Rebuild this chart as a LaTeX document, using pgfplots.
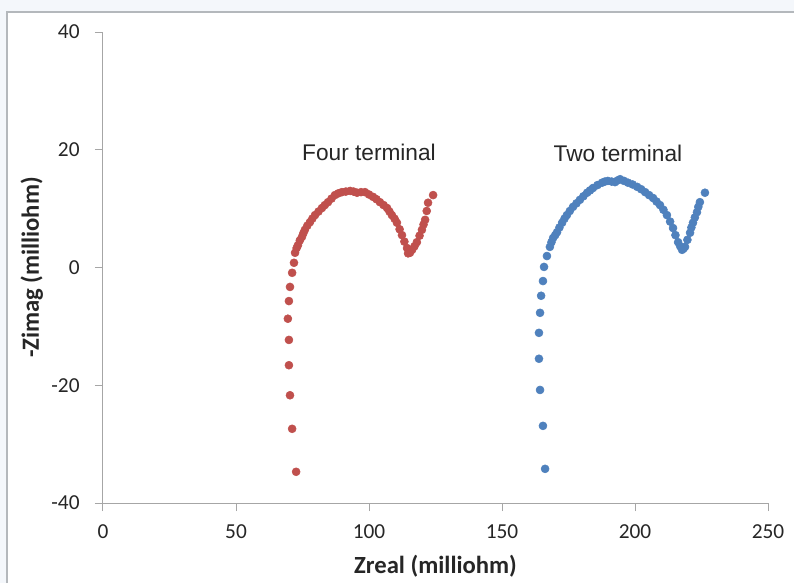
\documentclass[border=0pt]{standalone}
\usepackage{pgfplots}
\pgfplotsset{compat=1.18}
\usepackage{fontspec}
\setmainfont{Carlito}
\newfontfamily\arialfont{Liberation Sans}
\definecolor{redser}{HTML}{C0504D}
\definecolor{blueser}{HTML}{4F81BD}
\definecolor{axisgray}{HTML}{A6A6A6}
\definecolor{pagebg}{HTML}{F4F7FB}
\definecolor{framegray}{HTML}{B4B8BC}
\definecolor{txt}{HTML}{262626}

\begin{document}
\begin{tikzpicture}[x=1pt,y=1pt]
% page background and chart frame
\path[use as bounding box, fill=pagebg] (0,0) rectangle (595.5,437.25);
\fill[white] (5.25,0) rectangle (595.5,428.25);
\draw[framegray, line width=1.5pt] (5.25,0) -- (5.25,428.25) -- (595.5,428.25);

\begin{axis}[
    at={(77.25pt,60pt)}, anchor=south west,
    scale only axis, width=498.75pt, height=353.25pt,
    xmin=0, xmax=250, ymin=-40, ymax=40,
    xtick={0,50,...,250}, ytick={-40,-20,...,40},
    axis x line=bottom, axis y line=left,
    axis line style={axisgray, line width=0.75pt, -},
    tick align=outside, major tick length=6pt,
    tick style={axisgray, line width=0.75pt},
    ticklabel style={font=\fontsize{16}{19}\selectfont, text=txt},
    xticklabel style={yshift=-7pt},
    yticklabel style={xshift=-8pt},
    /pgf/number format/assume math mode=true,
    label style={font=\bfseries\fontsize{18.5}{22}\selectfont, text=txt},
    xlabel={Zreal (milliohm)},
    ylabel={-Zimag (milliohm)},
    xlabel style={at={(axis description cs:0.5,-0.135)}, anchor=center},
    ylabel style={at={(axis description cs:-0.107,0.5)}, anchor=center},
    clip=false,
]
% Four terminal
\addplot[only marks, mark=*, mark size=3pt, mark options={draw=redser, fill=redser}] coordinates {
(72.6,-34.7) (71.1,-27.4) (70.3,-21.7) (69.9,-16.6) (69.9,-12.3) (69.5,-8.7)
(69.9,-5.7) (70.3,-3.3) (71.1,-0.9) (71.8,0.8) (72.2,2.5) (72.8,3.3)
(73.3,3.8) (74.0,4.6) (74.8,5.2) (75.3,5.8) (75.9,6.4) (76.8,7.1)
(77.8,7.7) (78.7,8.3) (79.7,8.9) (81.0,9.5) (82.3,10.1) (83.4,10.6)
(84.6,11.1) (85.9,11.7) (87.2,12.3) (88.5,12.6) (89.8,12.8) (91.3,12.9)
(92.9,13.0) (94.2,12.9) (95.5,12.7) (97.0,12.8) (98.5,12.8) (100.0,12.4)
(101.5,12.0) (102.8,11.6) (104.1,11.1) (105.5,10.6) (106.8,10.1) (107.7,9.5)
(108.6,8.9) (109.6,8.3) (110.5,7.6) (111.5,6.5) (112.4,5.5) (113.3,4.4)
(114.3,3.3) (114.7,2.4) (115.4,2.5) (116.2,3.0) (117.1,3.6) (118.0,4.3)
(119.0,5.4) (119.9,6.4) (120.5,7.3) (121.1,8.1) (121.7,9.6) (122.2,11.0)
(124.1,12.3)
};
% Two terminal
\addplot[only marks, mark=*, mark size=3pt, mark options={draw=blueser, fill=blueser}] coordinates {
(166.2,-34.2) (165.4,-26.9) (164.3,-20.8) (163.9,-15.5) (163.9,-11.1) (164.3,-7.7)
(164.7,-4.8) (165.4,-2.3) (165.8,0.1) (166.9,1.95) (168.0,3.5) (168.6,4.3)
(169.2,5.0) (170.0,5.5) (170.7,6.0) (171.6,6.8) (172.6,7.6) (173.5,8.3)
(174.4,8.9) (175.5,9.6) (176.7,10.3) (178.0,10.9) (179.3,11.5) (180.6,12.1)
(182.0,12.7) (183.1,13.1) (184.2,13.5) (185.9,14.0) (187.6,14.4) (188.7,14.6)
(189.8,14.7) (191.2,14.6) (192.5,14.5) (193.5,14.8) (194.4,15.0) (195.9,14.7)
(197.4,14.4) (199.1,14.1) (200.8,13.7) (202.3,13.3) (203.8,12.8) (205.3,12.3)
(206.8,11.8) (208.1,11.2) (209.4,10.6) (210.7,9.8) (212.0,8.9) (213.2,7.8)
(214.3,6.7) (215.2,5.5) (216.2,4.3) (217.0,3.6) (217.7,3.0) (218.2,3.2)
(218.8,3.5) (219.7,4.7) (220.7,5.9) (221.2,6.8) (221.8,7.6) (222.5,8.5)
(223.3,9.4) (223.8,10.3) (224.4,11.1) (226.3,12.7)
};
\node[font=\arialfont\fontsize{17}{20}\selectfont, text=txt] at (axis cs:100,19.6) {Four terminal};
\node[font=\arialfont\fontsize{17}{20}\selectfont, text=txt] at (axis cs:193.6,19.4) {Two terminal};
\end{axis}
\end{tikzpicture}
\end{document}
